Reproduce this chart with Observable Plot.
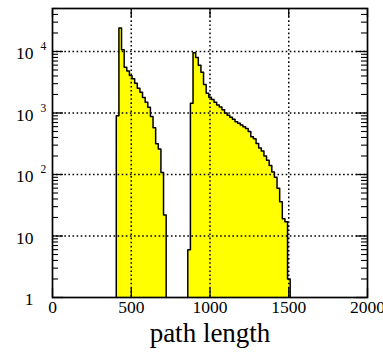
<!DOCTYPE html>
<html><head><meta charset="utf-8">
<script src="https://cdn.jsdelivr.net/npm/d3@7"></script>
<script src="https://cdn.jsdelivr.net/npm/@observablehq/plot@0.6"></script>
<style>
body{margin:0;background:#fff;}
#chart svg{display:block;}
</style></head><body><div id="chart"></div>
<script>
// ---- data ----
const binWidth = 50 / 3;
const lump1Start = 405;
const lump1Counts = [900, 24000, 10700, 5560, 4800, 4070, 3600, 3050, 2520, 2180, 1780, 1500, 1240, 875, 575, 315, 260, 108, 22];
const lump2Start = 859;
const lump2Counts = [6, 1440, 9500, 8000, 6000, 4600, 2900, 2100, 1800, 1650, 1500, 1350, 1250, 1130, 1000, 920, 850, 790, 720, 680, 640, 600, 560, 500, 410, 380, 320, 270, 240, 200, 170, 140, 110, 90, 60, 36, 19, 17, 2];
const xTickValues = [0, 500, 1000, 1500, 2000];
const xGridValues = [500, 1000, 1500];
const yMajorValues = [1, 10, 100, 1000, 10000];
const yGridValues = [10, 100, 1000, 10000];
const yLabelBase = ["1", "10", "10", "10", "10"];
const yExpValues = [100, 1000, 10000];
const yExpLabels = ["2", "3", "4"];
const xLabel = "path length";

// ---- build tables ----
function outline(start, counts, lump) {
  const pts = [{x: start, y: 1, lump}];
  counts.forEach((c, i) => pts.push({x: start + i * binWidth, y: c, lump}));
  const end = start + counts.length * binWidth;
  pts.push({x: end, y: counts[counts.length - 1], lump});
  pts.push({x: end, y: 1, lump});
  return pts;
}
const pts = outline(lump1Start, lump1Counts, "a").concat(outline(lump2Start, lump2Counts, "b"));
const yMinor = [];
for (let e = 0; e < 5; e++) for (let m = 2; m <= 9; m++) { const v = m * 10 ** e; if (v <= 50000) yMinor.push(v); }

const W = 383, H = 357, mL = 52, mR = 16, mT = 8, mB = 60;
const fw = W - mL - mR, fh = H - mT - mB;
const dots = "1.6,2.5";

const chart = Plot.plot({
  width: W, height: H,
  marginLeft: mL, marginRight: mR, marginTop: mT, marginBottom: mB,
  x: {domain: [0, 2000], axis: null},
  y: {type: "log", domain: [1, 50000], axis: null},
  style: {fontFamily: "'Liberation Serif','Times New Roman',serif", color: "black", background: "white"},
  marks: [
    Plot.areaY(pts, {x: "x", y1: 1, y2: "y", z: "lump", curve: "step-after", fill: "#ffff00"}),
    Plot.ruleX(xGridValues, {stroke: "black", strokeWidth: 1.5, strokeDasharray: dots}),
    Plot.ruleY(yGridValues, {stroke: "black", strokeWidth: 1.5, strokeDasharray: dots}),
    Plot.line(pts, {x: "x", y: "y", z: "lump", curve: "step-after", stroke: "black", strokeWidth: 1.5}),
    // y ticks left and right
    Plot.tickY(yMajorValues, {y: d => d, insetRight: fw - 11, stroke: "black", strokeWidth: 1.3}),
    Plot.tickY(yMinor, {y: d => d, insetRight: fw - 6, stroke: "black", strokeWidth: 1.1}),
    Plot.tickY(yMajorValues, {y: d => d, insetLeft: fw - 11, stroke: "black", strokeWidth: 1.3}),
    Plot.tickY(yMinor, {y: d => d, insetLeft: fw - 6, stroke: "black", strokeWidth: 1.1}),
    // x ticks bottom and top
    Plot.tickX(xTickValues, {x: d => d, insetTop: fh - 9, stroke: "black", strokeWidth: 1.3}),
    Plot.tickX(xTickValues, {x: d => d, insetBottom: fh - 9, stroke: "black", strokeWidth: 1.3}),
    Plot.frame({stroke: "black", strokeWidth: 1.7}),
    // labels
    Plot.text(xTickValues, {x: d => d, text: d => String(d), frameAnchor: "bottom", dy: 15.5, fontSize: 17.5, fill: "black"}),
    Plot.text(yMajorValues, {y: d => d, text: (d, i) => yLabelBase[i], frameAnchor: "left", dx: -19, dy: 2, textAnchor: "end", fontSize: 17.5, fill: "black"}),
    Plot.text(yExpValues, {y: d => d, text: (d, i) => yExpLabels[i], frameAnchor: "left", dx: -12, dy: -5, textAnchor: "start", fontSize: 11.5, fill: "black"}),
    Plot.text([xLabel], {text: d => d, frameAnchor: "bottom", dy: 44, fontSize: 27, fill: "black"})
  ]
});
document.getElementById("chart").appendChild(chart);
</script>
</body></html>
